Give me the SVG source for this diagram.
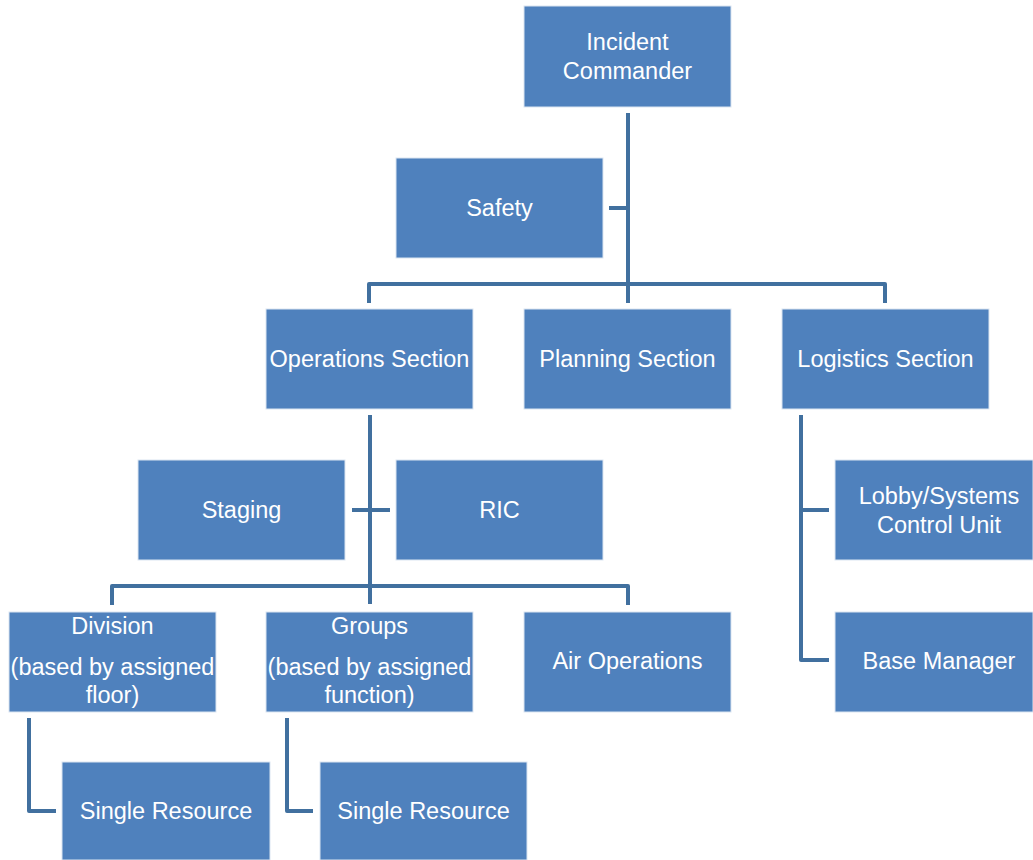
<svg xmlns="http://www.w3.org/2000/svg" width="1033" height="860" viewBox="0 0 1033 860">
<style>
.box{fill:#4F81BD;stroke:#dbe5f1;stroke-width:1}
.t{font-family:"Liberation Sans",Arial,sans-serif;font-size:23.5px;fill:#ffffff;text-anchor:middle}
.c{fill:none;stroke:#41709f;stroke-width:4;stroke-linejoin:round}
</style>
<rect width="1033" height="860" fill="#ffffff"/>
<g id="connectors">
<path class="c" d="M628 113 V303"/>
<path class="c" d="M609 208 H628"/>
<path class="c" d="M369 303 V284 H885 V303"/>
<path class="c" d="M370 415 V604"/>
<path class="c" d="M352 510 H390"/>
<path class="c" d="M112 605 V586 H628 V605"/>
<path class="c" d="M801 415 V660 H829"/>
<path class="c" d="M801 510 H829"/>
<path class="c" d="M29 718 V811 H56"/>
<path class="c" d="M287 718 V811 H313"/>
</g>
<g id="ic"><rect class="box" x="524" y="6" width="207" height="101"/><text class="t" x="627.5" y="50">Incident</text><text class="t" x="627.5" y="79">Commander</text></g>
<g id="safety"><rect class="box" x="396" y="158" width="207" height="100"/><text class="t" x="499.5" y="216">Safety</text></g>
<g id="ops"><rect class="box" x="266" y="309" width="207" height="100"/><text class="t" x="369.5" y="367">Operations Section</text></g>
<g id="planning"><rect class="box" x="524" y="309" width="207" height="100"/><text class="t" x="627.5" y="367">Planning Section</text></g>
<g id="logistics"><rect class="box" x="782" y="309" width="207" height="100"/><text class="t" x="885.5" y="367">Logistics Section</text></g>
<g id="staging"><rect class="box" x="138" y="460" width="207" height="100"/><text class="t" x="241.5" y="518">Staging</text></g>
<g id="ric"><rect class="box" x="396" y="460" width="207" height="100"/><text class="t" x="499.5" y="518">RIC</text></g>
<g id="lobby"><rect class="box" x="835" y="460" width="198" height="100"/><text class="t" x="939" y="504">Lobby/Systems</text><text class="t" x="939" y="533">Control Unit</text></g>
<g id="division"><rect class="box" x="9" y="612" width="207" height="100"/><text class="t" x="112.5" y="634">Division</text><text class="t" x="112.5" y="675">(based by assigned</text><text class="t" x="112.5" y="703">floor)</text></g>
<g id="groups"><rect class="box" x="266" y="612" width="207" height="100"/><text class="t" x="369.5" y="634">Groups</text><text class="t" x="369.5" y="675">(based by assigned</text><text class="t" x="369.5" y="703">function)</text></g>
<g id="air"><rect class="box" x="524" y="612" width="207" height="100"/><text class="t" x="627.5" y="669">Air Operations</text></g>
<g id="base"><rect class="box" x="835" y="612" width="198" height="100"/><text class="t" x="939" y="669">Base Manager</text></g>
<g id="sr1"><rect class="box" x="62" y="762" width="208" height="98"/><text class="t" x="166" y="819">Single Resource</text></g>
<g id="sr2"><rect class="box" x="320" y="762" width="207" height="98"/><text class="t" x="423.5" y="819">Single Resource</text></g>
</svg>
